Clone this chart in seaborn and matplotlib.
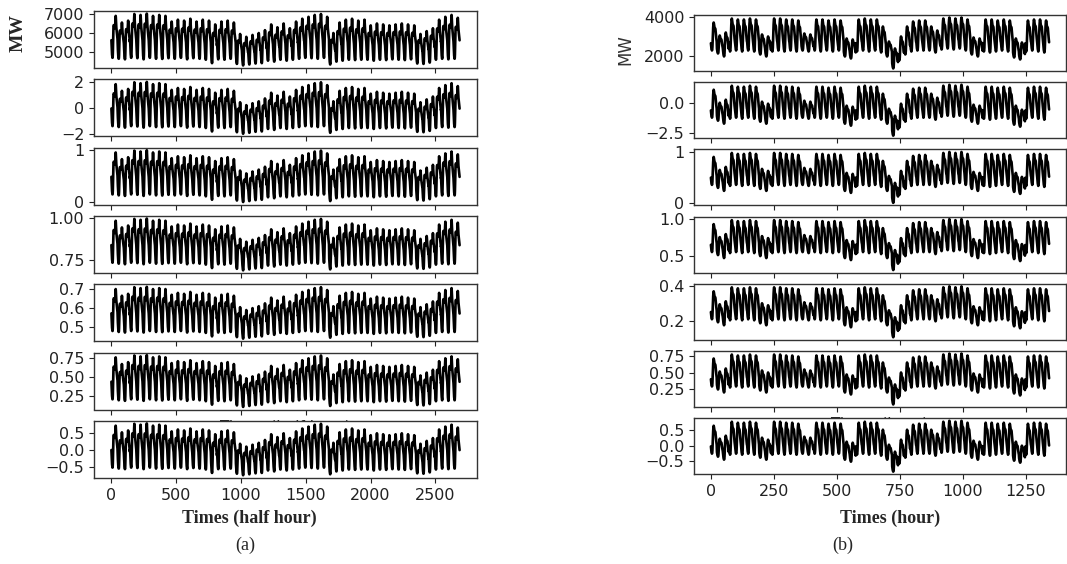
import numpy as np
import pandas as pd
import matplotlib
matplotlib.use("Agg")
import matplotlib.pyplot as plt
import seaborn as sns

sns.set_style("ticks")
plt.rcParams["font.family"] = ["DejaVu Sans"]

# ---------------- (a) half-hourly load, 56 days ----------------
peak_a = [6900, 6550, 6650, 7000, 6950, 7020, 6900, 6950, 6900,
          6600, 6700, 6650, 6750, 6600, 6700, 6650, 6450, 6600, 6650, 6550,
          5950, 5800, 5900, 6000, 6150,
          6450, 6300, 6500, 6250, 6600,
          6750, 6850, 6950, 7000, 6850,
          6000,
          6550, 6700, 6750, 6650, 6700,
          6400, 6500, 6450,
          6400, 6450, 6500, 6450, 6400,
          5950, 6100, 6250,
          6700, 6850, 6950, 6800]
trough_a = [4700, 4650, 4620, 4700, 4680, 4620, 4700, 4650, 4640,
            4680, 4650, 4700, 4620, 4680, 4650, 4600, 4420, 4620, 4600, 4650,
            4380, 4300, 4350, 4400, 4420,
            4550, 4500, 4600, 4550, 4600,
            4650, 4700, 4680, 4650, 4700,
            4350,
            4500, 4550, 4600, 4580, 4600,
            4600, 4550, 4600,
            4580, 4620, 4600, 4580, 4620,
            4400, 4380, 4450,
            4600, 4650, 4620, 4650]
# half-hourly daily shape (0 = overnight minimum, 1 = evening peak)
shape_a = [0.42, 0.34, 0.26, 0.19, 0.13, 0.08, 0.05, 0.02, 0.00, 0.00, 0.03, 0.10,
           0.24, 0.42, 0.58, 0.68, 0.74, 0.77, 0.78, 0.78, 0.77, 0.76, 0.75, 0.74,
           0.73, 0.72, 0.71, 0.71, 0.72, 0.75, 0.80, 0.88, 0.96, 1.00, 0.97, 0.90,
           0.82, 0.76, 0.72, 0.69, 0.66, 0.63, 0.60, 0.57, 0.54, 0.51, 0.48, 0.45]

# ---------------- (b) hourly load, 56 days ----------------
peak_b = [3700, 3050, 3200, 3900, 3850, 3850, 3900,
          3850, 3100, 3000, 3900, 3900, 3850, 3850,
          3800, 3150, 3100, 3850, 3850, 3800, 3850,
          3800, 2900, 2850, 3850, 3900, 3850, 3850,
          3500, 2750, 2400, 3000, 3500, 3750, 3800,
          3800, 3500, 3300, 3900, 3950, 3900, 3950,
          3850, 2950, 2900, 3850, 3850, 3800, 3850,
          3800, 2900, 2700, 3800, 3850, 3850, 3800]
trough_b = [2300, 2150, 2000, 2250, 2300, 2250, 2300,
            2250, 2100, 2000, 2250, 2300, 2250, 2300,
            2250, 2300, 2250, 2300, 2250, 2300, 2250,
            2300, 2000, 1900, 2250, 2300, 2250, 2300,
            2200, 2000, 1400, 1800, 2100, 2250, 2300,
            2300, 2300, 2200, 2350, 2400, 2350, 2400,
            2300, 2100, 2000, 2250, 2200, 2250, 2300,
            2250, 1950, 1850, 2250, 2300, 2250, 2200]
shape_b = [0.26, 0.16, 0.08, 0.03, 0.00, 0.02, 0.12, 0.36, 0.62, 0.82, 0.94, 1.00,
           0.96, 0.89, 0.84, 0.81, 0.80, 0.79, 0.76, 0.68, 0.57, 0.47, 0.39, 0.32]

# value range shown by each of the seven rows (row 0 is raw MW)
range_a = [None, (-1.95, 2.0), (0.0, 1.0), (0.69, 1.0), (0.44, 0.71), (0.11, 0.79), (-0.75, 0.78)]
range_b = [None, (-2.7, 1.54), (0.0, 1.0), (0.30, 1.0), (0.11, 0.40), (0.02, 0.79), (-0.83, 0.80)]
yticks_a = [[5000, 6000, 7000], [-2, 0, 2], [0, 1], [0.75, 1.00], [0.5, 0.6, 0.7],
            [0.25, 0.50, 0.75], [-0.5, 0.0, 0.5]]
yticks_b = [[2000, 4000], [-2.5, 0.0], [0, 1], [0.5, 1.0], [0.2, 0.4],
            [0.25, 0.50, 0.75], [-0.5, 0.0, 0.5]]
xticks_a = [0, 500, 1000, 1500, 2000, 2500]
xticks_b = [0, 250, 500, 750, 1000, 1250]


def build(peaks, troughs, shape):
    peaks = np.asarray(peaks, float)
    troughs = np.asarray(troughs, float)
    shape = np.asarray(shape, float)
    return (troughs[:, None] + (peaks - troughs)[:, None] * shape[None, :]).ravel()


load_a = build(peak_a, trough_a, shape_a)
load_b = build(peak_b, trough_b, shape_b)

W, H = 1067, 564
fig = plt.figure(figsize=(W / 100, H / 100), dpi=100)


def rect(left, top, w, h):
    return [left / W, 1 - (top + h) / H, w / W, h / H]


def draw_column(load, ranges, yticks, xticks, left, width, top0, step, height,
                xlabel_ghost, ytick_size, xtick_size):
    t = np.arange(len(load))
    lo, hi = load.min(), load.max()
    axes = []
    for k in range(7):
        ax = fig.add_axes(rect(left, top0 + k * step, width, height))
        if ranges[k] is None:
            y = load
        else:
            a, b = ranges[k]
            y = a + (load - lo) / (hi - lo) * (b - a)
        df = pd.DataFrame({"t": t, "v": y})
        sns.lineplot(data=df, x="t", y="v", ax=ax, color="black",
                     linewidth=1.9, estimator=None)
        ax.set_yticks(yticks[k])
        ax.set_xticks(xticks)
        ax.set_ylabel("")
        ax.set_xlabel("")
        ax.tick_params(axis="y", labelsize=ytick_size, colors="#222222")
        ax.tick_params(axis="x", labelsize=xtick_size, colors="#222222")
        for s in ax.spines.values():
            s.set_color("#333333")
            s.set_linewidth(1.0)
        if k < 6:
            ax.set_xticklabels([])
        axes.append(ax)
    axes[5].set_xlabel(xlabel_ghost, fontsize=11, labelpad=0)
    return axes


axes_a = draw_column(load_a, range_a, yticks_a, xticks_a,
                     94, 383, 11, 68.3, 57, "Times (half hour)", 11.5, 11.5)
axes_b = draw_column(load_b, range_b, yticks_b, xticks_b,
                     694, 372, 15, 67.2, 56, "Times (hour)", 11.5, 11.5)

serif = ["Liberation Serif", "DejaVu Serif"]
fig.text(18 / W, 1 - 33 / H, "MW", rotation=90, ha="center", va="center",
         family=serif, fontweight="bold", fontsize=14)
fig.text(625 / W, 1 - 50 / H, "MW", rotation=90, ha="center", va="center",
         family=["DejaVu Sans"], fontsize=12, color="#333333")
fig.text(249 / W, 1 - 518 / H, "Times (half hour)", ha="center", va="center",
         family=serif, fontweight="bold", fontsize=13)
fig.text(890 / W, 1 - 518 / H, "Times (hour)", ha="center", va="center",
         family=serif, fontweight="bold", fontsize=13)
fig.text(245 / W, 1 - 545 / H, "(a)", ha="center", va="center",
         family=serif, fontsize=13)
fig.text(843 / W, 1 - 545 / H, "(b)", ha="center", va="center",
         family=serif, fontsize=13)

fig.savefig("out.png", dpi=100, facecolor="white")
